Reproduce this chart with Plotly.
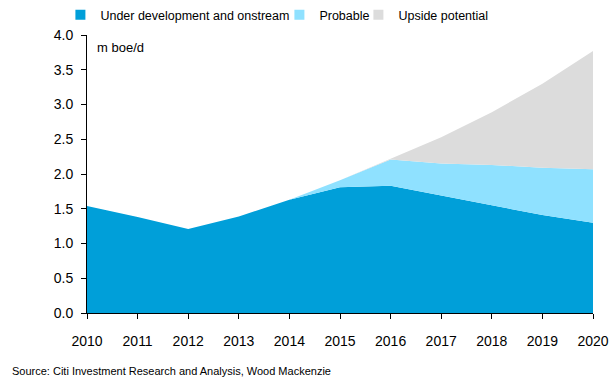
import plotly.graph_objects as go

years = [2010, 2011, 2012, 2013, 2014, 2015, 2016, 2017, 2018, 2019, 2020]
under_dev = [1.54, 1.38, 1.21, 1.39, 1.63, 1.81, 1.83, 1.69, 1.55, 1.41, 1.30]
probable = [0, 0, 0, 0, 0.0, 0.10, 0.38, 0.46, 0.58, 0.68, 0.77]
upside = [0, 0, 0, 0, 0, 0, 0.01, 0.38, 0.76, 1.21, 1.70]
y_ticks = [0.0, 0.5, 1.0, 1.5, 2.0, 2.5, 3.0, 3.5, 4.0]

series_names = ["Under development and onstream", "Probable", "Upside potential"]
series_colors = ["#009FD9", "#8FE1FF", "#DCDCDC"]
legend_widths = [174, 34, 100]

FONT = "Liberation Sans, Arial, sans-serif"

fig = go.Figure()
for name, vals, col in zip(series_names, [under_dev, probable, upside], series_colors):
    fig.add_trace(go.Scatter(x=years, y=vals, name=name, stackgroup="a", mode="none",
                             fillcolor=col, showlegend=False, hoverinfo="x+y+name"))
# legend entries with square swatches
for name, col, lw in zip(series_names, series_colors, legend_widths):
    fig.add_trace(go.Scatter(x=[None], y=[None], name=name, mode="markers",
                             marker=dict(symbol="square", size=10, color=col),
                             showlegend=True, legendwidth=lw))

fig.update_layout(
    width=612, height=384,
    margin=dict(l=87, r=19, t=35, b=71, autoexpand=False),
    paper_bgcolor="white", plot_bgcolor="white",
    font=dict(family=FONT, size=14, color="#000000"),
    showlegend=True,
    legend=dict(orientation="h", xref="container", yref="container",
                x=0.0987, xanchor="left", y=1.0, yanchor="top",
                font=dict(size=12.5), itemwidth=30, traceorder="normal",
                bgcolor="rgba(0,0,0,0)"),
    xaxis=dict(range=[2010, 2020], tickmode="array", tickvals=years,
               ticktext=[str(y) for y in years], showgrid=False, zeroline=False,
               showline=True, linecolor="#000000", linewidth=1,
               ticks="outside", ticklen=5, tickcolor="#000000", automargin=False,
               ticklabelstandoff=10),
    yaxis=dict(range=[0, 4.0], tickmode="array", tickvals=y_ticks,
               ticktext=[f"{v:.1f}" for v in y_ticks], showgrid=False, zeroline=False,
               showline=True, linecolor="#000000", linewidth=1,
               ticks="outside", ticklen=5, tickcolor="#000000", automargin=False,
               ticklabelstandoff=5),
    annotations=[
        dict(text="m boe/d", xref="paper", yref="paper", x=0.016, y=0.956,
             xanchor="left", yanchor="middle", showarrow=False, font=dict(size=13)),
        dict(text="Source: Citi Investment Research and Analysis, Wood Mackenzie",
             xref="paper", yref="paper", x=-0.152, y=-0.21, xanchor="left",
             yanchor="middle", showarrow=False, font=dict(size=11)),
    ],
)

fig.write_html("out.html", post_script="document.body.style.margin='0';",
               config={"displayModeBar": False})
